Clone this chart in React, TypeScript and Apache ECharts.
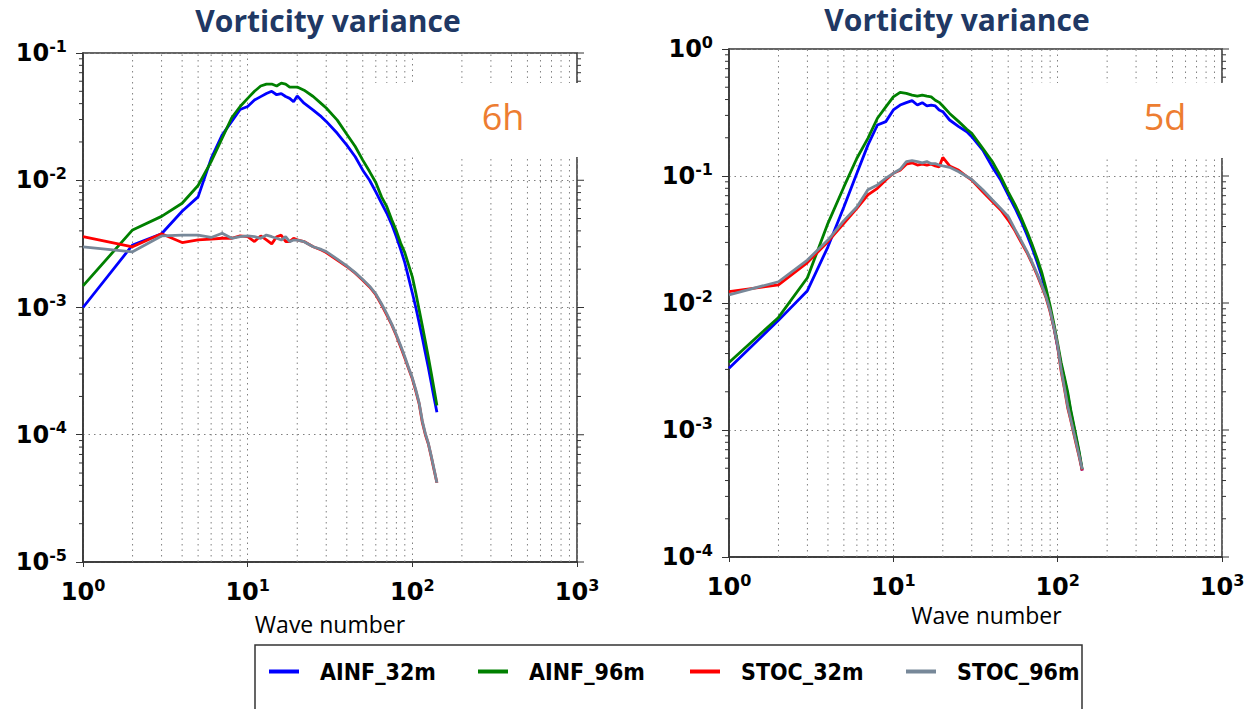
import React, { useEffect, useRef } from "react";
import * as echarts from "echarts";

// ---------- data ----------
const WAVE_NUMBERS = [1, 2, 3, 4, 5, 6, 7, 8, 9, 10, 11, 12, 13, 14, 15, 16, 17, 18, 19, 20, 22, 25, 28, 30, 35, 40, 45, 50, 55, 60, 65, 70, 75, 80, 85, 90, 95, 100, 105, 110, 115, 120, 125, 130, 135, 141];

// panel 1 : 6h
const H6_AINF_32M = [1.0e-3, 3.1e-3, 3.8e-3, 5.7e-3, 7.4e-3, 1.48e-2, 2.27e-2, 2.9e-2, 3.6e-2, 3.8e-2, 4.27e-2, 4.54e-2, 4.8e-2, 5.0e-2, 4.7e-2, 4.8e-2, 4.55e-2, 4.4e-2, 4.14e-2, 4.6e-2, 4.03e-2, 3.56e-2, 3.16e-2, 2.9e-2, 2.34e-2, 1.89e-2, 1.53e-2, 1.2e-2, 1.0e-2, 8.1e-3, 6.6e-3, 5.5e-3, 4.5e-3, 3.6e-3, 2.85e-3, 2.25e-3, 1.7e-3, 1.3e-3, 1.0e-3, 7.6e-4, 5.8e-4, 4.4e-4, 3.4e-4, 2.6e-4, 2.0e-4, 1.5e-4];
const H6_AINF_96M = [1.48e-3, 4.07e-3, 5.2e-3, 6.6e-3, 9.1e-3, 1.4e-2, 2.14e-2, 3.1e-2, 3.8e-2, 4.4e-2, 5.0e-2, 5.5e-2, 5.7e-2, 5.7e-2, 5.5e-2, 5.8e-2, 5.7e-2, 5.4e-2, 5.4e-2, 5.4e-2, 5.1e-2, 4.55e-2, 4.0e-2, 3.7e-2, 2.97e-2, 2.3e-2, 1.84e-2, 1.44e-2, 1.17e-2, 9.6e-3, 7.4e-3, 6.2e-3, 4.9e-3, 4.0e-3, 3.2e-3, 2.7e-3, 2.15e-3, 1.74e-3, 1.3e-3, 9.6e-4, 7.2e-4, 5.4e-4, 4.1e-4, 3.1e-4, 2.35e-4, 1.7e-4];
const H6_STOC_32M = [3.6e-3, 3.0e-3, 3.8e-3, 3.24e-3, 3.4e-3, 3.45e-3, 3.5e-3, 3.5e-3, 3.65e-3, 3.6e-3, 3.3e-3, 3.65e-3, 3.4e-3, 3.16e-3, 3.6e-3, 3.7e-3, 3.3e-3, 3.3e-3, 3.5e-3, 3.4e-3, 3.3e-3, 3.0e-3, 2.83e-3, 2.7e-3, 2.36e-3, 2.1e-3, 1.86e-3, 1.64e-3, 1.45e-3, 1.26e-3, 1.05e-3, 8.7e-4, 7.3e-4, 6.0e-4, 4.9e-4, 4.0e-4, 3.3e-4, 2.75e-4, 2.2e-4, 1.75e-4, 1.25e-4, 1.0e-4, 8.5e-5, 6.8e-5, 5.4e-5, 4.2e-5];
const H6_STOC_96M = [3.0e-3, 2.74e-3, 3.65e-3, 3.71e-3, 3.71e-3, 3.55e-3, 3.83e-3, 3.5e-3, 3.6e-3, 3.65e-3, 3.6e-3, 3.5e-3, 3.71e-3, 3.6e-3, 3.5e-3, 3.39e-3, 3.6e-3, 3.29e-3, 3.39e-3, 3.39e-3, 3.29e-3, 3.0e-3, 2.86e-3, 2.75e-3, 2.4e-3, 2.12e-3, 1.88e-3, 1.66e-3, 1.47e-3, 1.28e-3, 1.07e-3, 8.9e-4, 7.4e-4, 6.1e-4, 5.0e-4, 4.1e-4, 3.35e-4, 2.8e-4, 2.25e-4, 1.78e-4, 1.28e-4, 1.02e-4, 8.6e-5, 6.9e-5, 5.5e-5, 4.2e-5];

// panel 2 : 5d
const D5_AINF_32M = [3.06e-3, 7.3e-3, 1.25e-2, 2.77e-2, 5.7e-2, 0.105, 0.175, 0.252, 0.268, 0.331, 0.362, 0.378, 0.392, 0.362, 0.378, 0.356, 0.362, 0.356, 0.331, 0.321, 0.276, 0.245, 0.223, 0.204, 0.16, 0.118, 0.093, 0.071, 0.056, 0.044, 0.0345, 0.027, 0.021, 0.0163, 0.0122, 8.9e-3, 6.4e-3, 4.5e-3, 3.25e-3, 2.5e-3, 1.9e-3, 1.4e-3, 1.08e-3, 8.4e-4, 6.6e-4, 4.8e-4];
const D5_AINF_96M = [3.4e-3, 7.7e-3, 1.58e-2, 4.24e-2, 8.2e-2, 0.138, 0.198, 0.285, 0.35, 0.42, 0.456, 0.448, 0.434, 0.426, 0.434, 0.426, 0.42, 0.395, 0.38, 0.356, 0.311, 0.268, 0.233, 0.217, 0.165, 0.13, 0.099, 0.075, 0.0596, 0.0468, 0.0367, 0.0288, 0.0224, 0.0174, 0.013, 9.5e-3, 6.8e-3, 4.8e-3, 3.4e-3, 2.6e-3, 2.0e-3, 1.45e-3, 1.12e-3, 8.7e-4, 6.8e-4, 4.9e-4];
const D5_STOC_32M = [1.23e-2, 1.39e-2, 2.08e-2, 3.04e-2, 4.24e-2, 5.56e-2, 7.1e-2, 8.0e-2, 9.3e-2, 0.105, 0.111, 0.124, 0.127, 0.122, 0.124, 0.122, 0.124, 0.12, 0.118, 0.14, 0.12, 0.111, 0.099, 0.093, 0.075, 0.063, 0.054, 0.045, 0.037, 0.03, 0.025, 0.0204, 0.0166, 0.0135, 0.011, 8.5e-3, 6.3e-3, 4.5e-3, 2.9e-3, 2.1e-3, 1.5e-3, 1.2e-3, 9.5e-4, 7.6e-4, 6.2e-4, 4.8e-4];
const D5_STOC_96M = [1.16e-2, 1.47e-2, 2.18e-2, 3.13e-2, 4.45e-2, 5.7e-2, 7.8e-2, 8.5e-2, 9.6e-2, 0.105, 0.113, 0.13, 0.132, 0.13, 0.127, 0.13, 0.125, 0.125, 0.122, 0.12, 0.117, 0.108, 0.099, 0.094, 0.078, 0.065, 0.0556, 0.048, 0.038, 0.031, 0.0255, 0.0208, 0.017, 0.0138, 0.0112, 8.7e-3, 6.4e-3, 4.6e-3, 3.0e-3, 2.15e-3, 1.55e-3, 1.22e-3, 9.7e-4, 7.8e-4, 6.3e-4, 4.9e-4];

const SERIES_NAMES = ["AINF_32m", "AINF_96m", "STOC_32m", "STOC_96m"];
const SERIES_COLORS = ["#0000ff", "#008000", "#ff0000", "#778899"];
const PANEL_DATA = [
  [H6_AINF_32M, H6_AINF_96M, H6_STOC_32M, H6_STOC_96M],
  [D5_AINF_32M, D5_AINF_96M, D5_STOC_32M, D5_STOC_96M],
];
const PANEL_TITLE = "Vorticity variance";
const PANEL_TAGS = ["6h", "5d"];
const X_NAME = "Wave number";
const X_RANGE = [1, 1000];
const Y_RANGES = [
  [1e-5, 1e-1],
  [1e-4, 1],
];

// ---------- layout ----------
const GRIDS = [
  { left: 83, top: 53, width: 494, height: 509 },
  { left: 729, top: 49, width: 493, height: 508 },
];
const TITLE_POS = [
  { left: 328, top: 5 },
  { left: 957, top: 4 },
];
const TAG_POS = [
  { left: 503, top: 98 },
  { left: 1165, top: 98 },
];
const WHITE_BOXES = [
  { x: 375, y: 83, width: 245, height: 74 },
  { x: 1030, y: 83, width: 222, height: 75 },
];
const NAME_GAPS = [50, 45];
const NAME_SHIFT = [0, 22];
const LEGEND_X = [269, 478, 690, 906];
const GRID_COLOR = "#808080";
const GRID_DASH = [1.5, 4];

const decadeMinors = (lo: number, hi: number) => {
  const out: number[] = [];
  for (let d = lo; d < hi * 0.999; d *= 10) {
    for (let m = 2; m <= 9; m++) out.push(+(m * d).toPrecision(3));
  }
  return out;
};
const decadeMajors = (lo: number, hi: number) => {
  const out: number[] = [];
  for (let d = lo; d <= hi * 1.001; d *= 10) out.push(+d.toPrecision(3));
  return out;
};

const supLabel = (v: number) => {
  const e = Math.round(Math.log10(v));
  return `{b|10}{s|${e}}`;
};

const LABEL_RICH = {
  b: { fontFamily: "DejaVu Sans", fontWeight: "bold", fontSize: 24, lineHeight: 30, color: "#000" },
  s: { fontFamily: "DejaVu Sans", fontWeight: "bold", fontSize: 16, lineHeight: 12, verticalAlign: "top", color: "#000" },
};

export default function App() {
  const ref = useRef<HTMLDivElement>(null);

  useEffect(() => {
    if (!ref.current) return;
    const chart = echarts.init(ref.current, undefined, { renderer: "svg" });

    const xAxis: any[] = [];
    const yAxis: any[] = [];
    const series: any[] = [];

    [0, 1].forEach((gi) => {
      const [yMin, yMax] = Y_RANGES[gi];
      xAxis.push({
        type: "log",
        logBase: 10,
        gridIndex: gi,
        min: X_RANGE[0],
        max: X_RANGE[1],
        name: X_NAME,
        nameLocation: "middle",
        nameGap: NAME_GAPS[gi],
        nameTextStyle: {
          fontFamily: "Open Sans",
          fontSize: 23,
          color: "#000",
          padding: [0, 0, 0, NAME_SHIFT[gi]],
        },
        axisLine: { show: true, lineStyle: { color: "#333", width: 1.5 } },
        axisTick: { show: true, length: 5, lineStyle: { color: "#333" } },
        axisLabel: { formatter: supLabel, margin: 15, rich: LABEL_RICH },
        splitLine: { show: true, lineStyle: { color: GRID_COLOR, type: GRID_DASH, width: 1 } },
      });
      yAxis.push({
        type: "log",
        logBase: 10,
        gridIndex: gi,
        min: yMin,
        max: yMax,
        axisLine: { show: true, lineStyle: { color: "#333", width: 1.5 } },
        axisTick: { show: true, length: 7, lineStyle: { color: "#333" } },
        axisLabel: { formatter: supLabel, margin: 16, rich: LABEL_RICH },
        splitLine: { show: true, lineStyle: { color: GRID_COLOR, type: GRID_DASH, width: 1 } },
      });

      // minor vertical grid lines (through the log x scale)
      const xMinors = decadeMinors(X_RANGE[0], X_RANGE[1]);
      series.push({
        type: "custom",
        xAxisIndex: gi,
        yAxisIndex: gi,
        silent: true,
        z: 1,
        data: xMinors.map((k) => [k, yMin, yMax]),
        encode: { x: 0, y: [1, 2] },
        renderItem: (_p: any, api: any) => {
          const a = api.coord([api.value(0), api.value(1)]);
          const b = api.coord([api.value(0), api.value(2)]);
          return {
            type: "line",
            shape: { x1: a[0], y1: a[1], x2: b[0], y2: b[1] },
            style: { stroke: GRID_COLOR, lineWidth: 1, lineDash: GRID_DASH },
          };
        },
      });

      // minor y ticks on both sides, major ticks on the right side
      const yMinors = decadeMinors(yMin, yMax);
      const yMajors = decadeMajors(yMin, yMax);
      series.push({
        type: "custom",
        xAxisIndex: gi,
        yAxisIndex: gi,
        silent: true,
        z: 3,
        data: [
          ...yMinors.map((v) => [X_RANGE[0], v, -4]),
          ...yMinors.map((v) => [X_RANGE[1], v, 4]),
          ...yMajors.map((v) => [X_RANGE[1], v, 7]),
        ],
        encode: { x: 0, y: 1 },
        renderItem: (_p: any, api: any) => {
          const c = api.coord([api.value(0), api.value(1)]);
          const L = api.value(2);
          return {
            type: "line",
            shape: { x1: c[0], y1: c[1], x2: c[0] + L, y2: c[1] },
            style: { stroke: "#333", lineWidth: 1 },
          };
        },
      });

      SERIES_NAMES.forEach((name, si) => {
        series.push({
          type: "line",
          name,
          xAxisIndex: gi,
          yAxisIndex: gi,
          showSymbol: false,
          symbol: "none",
          z: 4 + si,
          lineStyle: { color: SERIES_COLORS[si], width: 2.8 },
          itemStyle: { color: SERIES_COLORS[si] },
          data: WAVE_NUMBERS.map((k, i) => [k, PANEL_DATA[gi][si][i]]),
        });
      });
    });

    const titles: any[] = [];
    [0, 1].forEach((gi) => {
      titles.push({
        text: PANEL_TITLE,
        left: TITLE_POS[gi].left,
        top: TITLE_POS[gi].top,
        textAlign: "center",
        padding: 0,
        textStyle: { fontFamily: "Open Sans", fontWeight: "bold", fontSize: 30, color: "#203864" },
      });
      titles.push({
        text: PANEL_TAGS[gi],
        left: TAG_POS[gi].left,
        top: TAG_POS[gi].top,
        textAlign: "center",
        padding: 0,
        z: 20,
        textStyle: { fontFamily: "Open Sans", fontWeight: "normal", fontSize: 36, color: "#ED7D31" },
      });
    });

    const legends = SERIES_NAMES.map((name, i) => ({
      data: [name],
      left: LEGEND_X[i],
      top: 660,
      padding: 0,
      icon: "rect",
      itemWidth: 30,
      itemHeight: 4,
      selectedMode: false,
      textStyle: {
        fontFamily: "'DejaVu Sans Condensed', 'DejaVu Sans', sans-serif",
        fontWeight: "bold",
        fontSize: 23,
        color: "#000",
        padding: [0, 0, 0, 16],
      },
    }));

    const graphic: any[] = [
      {
        type: "rect",
        z: 0,
        shape: { x: 255, y: 645, width: 827, height: 70 },
        style: { fill: "#fff", stroke: "#333", lineWidth: 1.5 },
      },
      ...WHITE_BOXES.map((b) => ({
        type: "rect",
        z: 10,
        shape: b,
        style: { fill: "#fff" },
      })),
    ];

    chart.setOption({
      animation: false,
      backgroundColor: "#fff",
      title: titles,
      legend: legends,
      grid: GRIDS.map((g) => ({ ...g, show: true, borderColor: "#333", borderWidth: 1.5, containLabel: false })),
      xAxis,
      yAxis,
      series,
      graphic,
    });

    return () => chart.dispose();
  }, []);

  return (
    <div
      ref={ref}
      style={{ position: "fixed", left: 0, top: 0, width: 1252, height: 709, background: "#fff" }}
    />
  );
}
